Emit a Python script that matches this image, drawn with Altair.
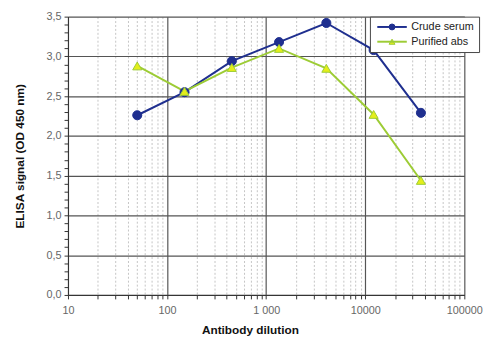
import altair as alt
import pandas as pd

dilution = [50, 150, 450, 1350, 4050, 12150, 36450]
crude = [2.26, 2.55, 2.94, 3.18, 3.42, 3.08, 2.29]
purified = [2.88, 2.56, 2.86, 3.10, 2.85, 2.27, 1.44]
series_names = ["Crude serum", "Purified abs"]

x_major = [10, 100, 1000, 10000, 100000]
x_ticks = [10, 20, 30, 40, 50, 60, 70, 80, 90,
           100, 200, 300, 400, 500, 600, 700, 800, 900,
           1000, 2000, 3000, 4000, 5000, 6000, 7000, 8000, 9000,
           10000, 20000, 30000, 40000, 50000, 60000, 70000, 80000, 90000,
           100000]
x_labels = ["10", "100", "1 000", "10000", "100000"]
y_major = [0.0, 0.5, 1.0, 1.5, 2.0, 2.5, 3.0, 3.5]
y_ticks = [0.0, 0.1, 0.2, 0.3, 0.4, 0.5, 0.6, 0.7, 0.8, 0.9,
           1.0, 1.1, 1.2, 1.3, 1.4, 1.5, 1.6, 1.7, 1.8, 1.9,
           2.0, 2.1, 2.2, 2.3, 2.4, 2.5, 2.6, 2.7, 2.8, 2.9,
           3.0, 3.1, 3.2, 3.3, 3.4, 3.5]

rows = []
for d, c in zip(dilution, crude):
    rows.append({"dilution": d, "signal": c, "series": series_names[0]})
for d, p in zip(dilution, purified):
    rows.append({"dilution": d, "signal": p, "series": series_names[1]})
df = pd.DataFrame(rows)
df["series_b"] = df["series"]

navy = "#1f2f8f"
green = "#9dcc35"
yellow = "#e4ee1a"
FONT = "Liberation Sans"

major_test = "indexof(" + str(x_major) + ", datum.value) >= 0"
label_map = "{" + ", ".join(f"'{v}': '{l}'" for v, l in zip(x_major, x_labels)) + "}"
x_label_expr = f"{major_test} ? {label_map}[format(datum.value, 'd')] : ''"
y_major_test = "abs(datum.value * 2 - round(datum.value * 2)) < 0.001"

x_enc = alt.X(
    "dilution:Q",
    scale=alt.Scale(type="log", domain=[10, 100000], nice=False),
    axis=alt.Axis(
        values=x_ticks,
        tickCount=200,
        labelExpr=x_label_expr,
        labelFlush=False,
        labelOverlap=False,
        grid=True,
        gridColor=alt.condition(major_test, alt.value("#555555"), alt.value("#b5b5b5")),
        gridDash=alt.condition(major_test, alt.value([]), alt.value([2, 2])),
        gridWidth=alt.condition(major_test, alt.value(1.2), alt.value(0.8)),
        tickColor="#333333",
        tickSize=4,
        domainColor="#333333",
        labelColor="#666666",
        labelFont=FONT,
        labelFontSize=11,
        labelPadding=6,
        title="Antibody dilution",
        titleFont=FONT,
        titleFontSize=12,
        titleFontWeight="bold",
        titleColor="#111111",
        titleX=185,
        titlePadding=9,
    ),
)

y_enc = alt.Y(
    "signal:Q",
    scale=alt.Scale(domain=[0, 3.5], nice=False),
    axis=alt.Axis(
        values=y_ticks,
        tickCount=200,
        labelExpr=f"{y_major_test} ? replace(format(datum.value, '.1f'), '.', ',') : ''",
        labelOverlap=False,
        grid=True,
        gridColor="#555555",
        gridWidth=1.2,
        gridOpacity=alt.condition(y_major_test, alt.value(1), alt.value(0)),
        tickColor="#333333",
        tickSize=4,
        domainColor="#333333",
        labelColor="#666666",
        labelFont=FONT,
        labelFontSize=11,
        labelPadding=3,
        title="ELISA signal (OD 450 nm)",
        titleFont=FONT,
        titleFontSize=12,
        titleFontWeight="bold",
        titleColor="#111111",
        titlePadding=20,
    ),
)

legend_common = dict(
    title=None,
    orient="none",
    legendX=307,
    legendY=0,
    symbolSize=36,
    symbolOffset=12,
    labelOffset=14,
    labelFont=FONT,
    labelFontSize=11,
    padding=5,
    rowPadding=3,
)

lines = alt.Chart(df).mark_line(strokeWidth=2).encode(
    x=x_enc,
    y=y_enc,
    color=alt.Color(
        "series:N",
        scale=alt.Scale(domain=series_names, range=[navy, green]),
        legend=alt.Legend(
            symbolType="M-5,0H5",
            symbolStrokeWidth=2,
            labelColor="#222222",
            **legend_common,
        ),
    ),
)

points = alt.Chart(df).mark_point(filled=True, strokeWidth=1, opacity=1, size=85).encode(
    x=alt.X("dilution:Q"),
    y=alt.Y("signal:Q"),
    shape=alt.Shape(
        "series_b:N",
        scale=alt.Scale(range=["circle", "triangle-up"]),
        legend=alt.Legend(
            labelOpacity=0,
            symbolStrokeWidth=1,
            strokeColor="#444444",
            fillColor="white",
            **legend_common,
        ),
    ),
    fill=alt.Fill("series_b:N", scale=alt.Scale(range=[navy, yellow])),
    stroke=alt.Stroke("series_b:N", scale=alt.Scale(range=[navy, green])),
)

chart = (
    alt.layer(lines, points)
    .resolve_scale(color="independent")
    .properties(
        width=403,
        height=283,
        autosize=alt.AutoSizeParams(type="none"),
        padding={"left": 61, "top": 6, "right": 20, "bottom": 42},
        background="white",
    )
    .configure_view(stroke=None)
)

chart.save("out.html", embed_options={"renderer": "svg", "actions": False})
